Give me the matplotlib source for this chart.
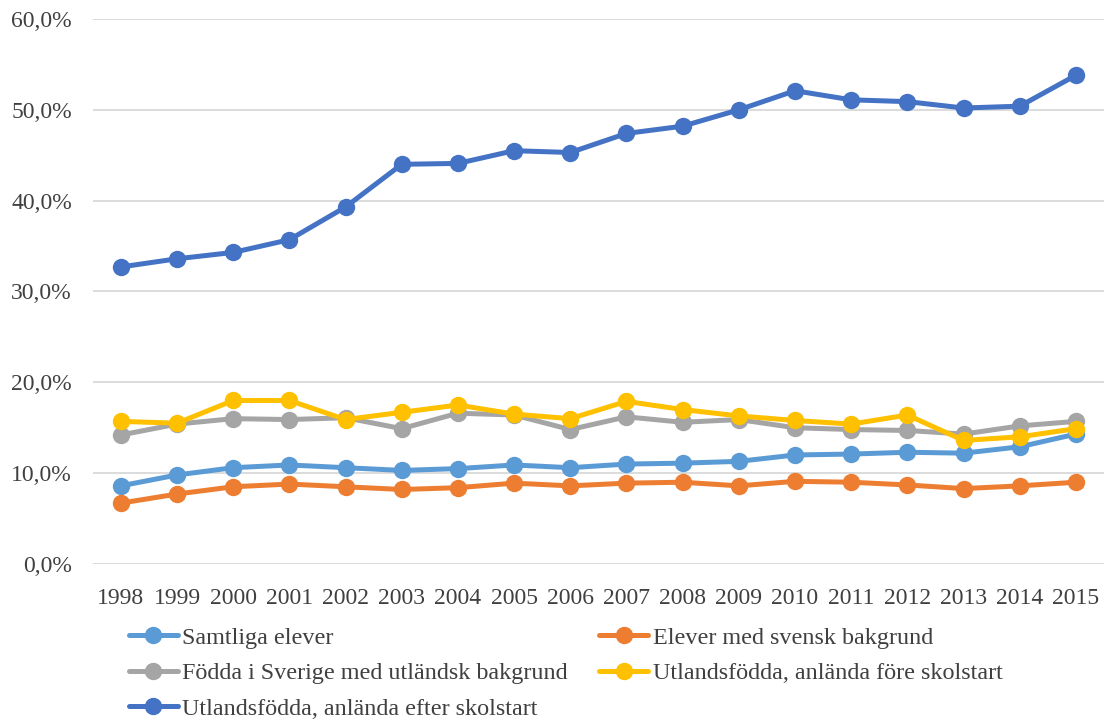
import numpy as np
import matplotlib
matplotlib.use('Agg')
import matplotlib.pyplot as plt
from matplotlib.ticker import FuncFormatter

#Data (share of students, %)
years = ['1998', '1999', '2000', '2001', '2002', '2003', '2004', '2005', '2006',
         '2007', '2008', '2009', '2010', '2011', '2012', '2013', '2014', '2015']

samtliga = [8.6, 9.8, 10.6, 10.9, 10.6, 10.3, 10.5, 10.9, 10.6,
            11.0, 11.1, 11.3, 12.0, 12.1, 12.3, 12.2, 12.9, 14.3]
svensk = [6.7, 7.7, 8.5, 8.8, 8.5, 8.2, 8.4, 8.9, 8.6,
          8.9, 9.0, 8.6, 9.1, 9.0, 8.7, 8.3, 8.6, 9.0]
fodda_sverige = [14.2, 15.4, 16.0, 15.9, 16.1, 14.9, 16.6, 16.4, 14.8,
                 16.2, 15.6, 15.9, 15.0, 14.8, 14.7, 14.3, 15.2, 15.7]
fore_skolstart = [15.7, 15.5, 18.0, 18.0, 15.9, 16.7, 17.5, 16.5, 16.0,
                  17.9, 17.0, 16.3, 15.8, 15.4, 16.4, 13.6, 14.0, 14.9]
efter_skolstart = [32.7, 33.6, 34.3, 35.7, 39.3, 44.0, 44.1, 45.5, 45.3,
                   47.4, 48.2, 50.0, 52.1, 51.1, 50.9, 50.2, 50.4, 53.8]

series = [
     ('Samtliga elever', samtliga, '#5B9BD5')
    ,('Elever med svensk bakgrund', svensk, '#ED7D31')
    ,('Födda i Sverige med utländsk bakgrund', fodda_sverige, '#A5A5A5')
    ,('Utlandsfödda, anlända före skolstart', fore_skolstart, '#FFC000')
    ,('Utlandsfödda, anlända efter skolstart', efter_skolstart, '#4472C4')
]

plt.rcParams['font.family'] = ['Liberation Serif', 'DejaVu Serif']
text_col = '#404040'

fig = plt.figure(figsize=(11.04, 7.19), dpi=100)
ax = fig.add_axes([0.084, 0.2156, 0.916, 0.758])

x = np.arange(len(years))
handles = []
for name, vals, col in series:
    h, = ax.plot(x, vals, color=col, lw=3.6, marker='o', ms=11.5,
                 solid_capstyle='round', label=name)
    handles.append(h)

ax.set_xlim(-0.5, len(years) - 0.5)
ax.set_ylim(0, 60)
ax.set_yticks(np.arange(0, 61, 10))
ax.yaxis.set_major_formatter(FuncFormatter(lambda v, p: f'{v:.1f}%'.replace('.', ',')))
ax.set_xticks(x)
ax.set_xticklabels(years)
ax.tick_params(axis='both', length=0, labelsize=17, colors=text_col)
ax.tick_params(axis='y', pad=15)
ax.tick_params(axis='x', pad=17)
ax.grid(axis='y', color='#D9D9D9', lw=1.3)
ax.set_axisbelow(True)
for s in ax.spines.values():
    s.set_visible(False)

#row-major legend: column 1 then column 2
order = [0, 2, 4, 1, 3]
leg = fig.legend([handles[i] for i in order], [series[i][0] for i in order],
                 ncol=2, loc='upper left', bbox_to_anchor=(0.117, 0.128),
                 frameon=False, fontsize=17.4, handlelength=2.0, handletextpad=0.2,
                 columnspacing=1.3, labelspacing=0.56, borderaxespad=0, borderpad=0)
for t in leg.get_texts():
    t.set_color(text_col)

fig.savefig('out.png', dpi=100)
